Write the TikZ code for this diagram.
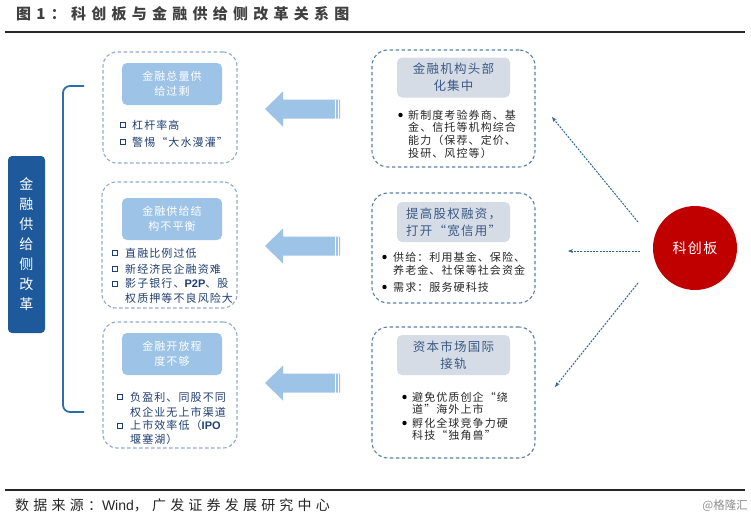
\documentclass[tikz,border=0pt]{standalone}
\usepackage{fontspec}
\setmainfont{Liberation Sans}
\newfontfamily\lat{Liberation Sans}
\newfontfamily\cjk{Noto Sans CJK SC}
\newfontfamily\cjksp[LetterSpace=10]{Noto Sans CJK SC}
\newfontfamily\cjkwide[LetterSpace=30]{Noto Sans CJK SC}
\newfontfamily\cjktitle[LetterSpace=35]{Noto Sans CJK SC}
\usetikzlibrary{arrows.meta}
\definecolor{lfill}{HTML}{9DC3E6}
\definecolor{rfill}{HTML}{D6DCE5}
\definecolor{ltext}{HTML}{1F3F70}
\definecolor{rtext}{HTML}{3B5A85}
\definecolor{btext}{HTML}{262626}
\definecolor{dashl}{HTML}{8FAACC}
\definecolor{dashr}{HTML}{5B7FA8}
\definecolor{sidebox}{HTML}{1E5A9B}
\definecolor{brk}{HTML}{2E6DA8}
\definecolor{kred}{HTML}{C00000}
\definecolor{arrc}{HTML}{33669A}
\definecolor{bigarr}{HTML}{9DC3E6}
\begin{document}
\begin{tikzpicture}[x=1pt,y=-1pt,
  lbox/.style={draw=dashl, dash pattern=on 3.5pt off 2.5pt, line width=1.1pt, rounded corners=14pt},
  rbox/.style={draw=dashr, dash pattern=on 3.5pt off 2.5pt, line width=1.1pt, rounded corners=16pt},
  ltitle/.style={fill=lfill, rounded corners=5pt, minimum width=100pt, minimum height=42pt, text=white, align=center, font=\cjksp\fontsize{11}{15}\selectfont},
  rtitle/.style={fill=rfill, rounded corners=5pt, minimum width=113pt, minimum height=40pt, text=rtext, align=center, font=\cjksp\fontsize{12.5}{17}\selectfont},
  ltxt/.style={anchor=west, inner sep=0pt, text=ltext, font=\cjksp\fontsize{11}{12}\selectfont},
  rtxt/.style={anchor=west, inner sep=0pt, text=btext, font=\cjksp\fontsize{11}{12}\selectfont},
  sqb/.style={draw=ltext, line width=0.8pt, minimum size=5pt, inner sep=0pt},
  dotb/.style={circle, fill=black, minimum size=4.4pt, inner sep=0pt},
  bigarrow/.style={fill=bigarr},
  dasharrow/.style={draw=arrc, line width=1pt, dash pattern=on 2pt off 1.2pt, -{Stealth[length=5pt,width=4pt]}}
]
\useasboundingbox (0,0) rectangle (751,523);

% title and rules
\node[anchor=west, inner sep=0pt, text=black!75, font=\cjktitle\bfseries\fontsize{15}{18}\selectfont] (title) at (16,14) {图1：科创板与金融供给侧改革关系图};
\coordinate (r1a) at (5,32); \coordinate (r1b) at (745,32);
\draw[line width=1.3pt, black!85] (r1a) -- (r1b);
\coordinate (r2a) at (5,490); \coordinate (r2b) at (745,490);
\draw[line width=1.3pt, black!85] (r2a) -- (r2b);
\node[anchor=west, inner sep=0pt, text=black!85, font=\cjkwide\fontsize{14}{16}\selectfont] (src) at (15,505) {数据来源：{\lat Wind}，广发证券发展研究中心};
\node[anchor=east, inner sep=0pt, text=black!45, font=\cjk\fontsize{11.5}{14}\selectfont] (wm) at (748,506) {@格隆汇};

% side label and bracket
\node[fill=sidebox, rounded corners=4pt, minimum width=37pt, minimum height=177pt, text=white, align=center, font=\cjk\fontsize{14}{20}\selectfont] (side) at (26.5,244.5) {金\\融\\供\\给\\侧\\改\\革};
\draw[brk, line width=1.8pt, rounded corners=7pt] (84,86) -- (63,86) -- (63,412) -- (84,412);

% left boxes
\node[lbox, minimum width=134pt, minimum height=111pt] (L1) at (170,107.5) {};
\node[ltitle] (L1t) at (172,84) {金融总量供\\给过剩};
\node[sqb] (L1s1) at (122.5,125) {};
\node[ltxt] (L1l1) at (132,125) {杠杆率高};
\node[sqb] (L1s2) at (122.5,142) {};
\node[ltxt] (L1l2) at (132,142) {警惕“大水漫灌”};

\node[lbox, minimum width=135pt, minimum height=126pt] (L2) at (169.5,245) {};
\node[ltitle] (L2t) at (172,219) {金融供给结\\构不平衡};
\node[sqb] (L2s1) at (114.5,253) {};
\node[ltxt] (L2l1) at (125,253) {直融比例过低};
\node[sqb] (L2s2) at (114.5,269) {};
\node[ltxt] (L2l2) at (125,269) {新经济民企融资难};
\node[sqb] (L2s3) at (114.5,283.5) {};
\node[ltxt] (L2l3) at (125,283.5) {影子银行、{\lat\bfseries P2P}、股};
\node[ltxt] (L2l4) at (125,298) {权质押等不良风险大};

\node[lbox, minimum width=134pt, minimum height=126pt] (L3) at (170,385) {};
\node[ltitle] (L3t) at (172,354) {金融开放程\\度不够};
\node[sqb] (L3s1) at (119.5,397) {};
\node[ltxt] (L3l1) at (130,397) {负盈利、同股不同};
\node[ltxt] (L3l2) at (130,412) {权企业无上市渠道};
\node[sqb] (L3s2) at (119.5,425.5) {};
\node[ltxt] (L3l3) at (130,425.5) {上市效率低（{\lat\bfseries IPO}};
\node[ltxt] (L3l4) at (130,439) {堰塞湖）};

% right boxes
\node[rbox, minimum width=163pt, minimum height=117pt] (R1) at (453.5,108.5) {};
\node[rtitle] (R1t) at (453.5,77.5) {金融机构头部\\化集中};
\node[dotb] (R1d1) at (400.5,115) {};
\node[rtxt] (R1l1) at (408,115) {新制度考验券商、基};
\node[rtxt] (R1l2) at (408,127.5) {金、信托等机构综合};
\node[rtxt] (R1l3) at (408,140) {能力（保荐、定价、};
\node[rtxt] (R1l4) at (408,153) {投研、风控等）};

\node[rbox, minimum width=163pt, minimum height=110pt] (R2) at (453.5,248) {};
\node[rtitle] (R2t) at (453.5,222) {提高股权融资，\\打开“宽信用”};
\node[dotb] (R2d1) at (384.5,257) {};
\node[rtxt] (R2l1) at (393,257) {供给：利用基金、保险、};
\node[rtxt] (R2l2) at (393,270) {养老金、社保等社会资金};
\node[dotb] (R2d2) at (384.5,287) {};
\node[rtxt] (R2l3) at (393,287) {需求：服务硬科技};

\node[rbox, minimum width=163pt, minimum height=131pt] (R3) at (453.5,392.5) {};
\node[rtitle] (R3t) at (453.5,355) {资本市场国际\\接轨};
\node[dotb] (R3d1) at (404.5,397) {};
\node[rtxt] (R3l1) at (412,397) {避免优质创企“绕};
\node[rtxt] (R3l2) at (412,409) {道”海外上市};
\node[dotb] (R3d2) at (404.5,423) {};
\node[rtxt] (R3l3) at (412,423) {孵化全球竞争力硬};
\node[rtxt] (R3l4) at (412,435) {科技“独角兽”};

% big arrows
\foreach \c/\n in {109/A1,246/A2,383/A3}{
  \fill[bigarrow] (340,\c-9.5) -- (283,\c-9.5) -- (283,\c-17.5) -- (265,\c) -- (283,\c+17.5) -- (283,\c+9.5) -- (340,\c+9.5) -- cycle;
  \draw[white, line width=0.7pt] (335.5,\c-9.5) -- (335.5,\c+9.5);
  \draw[white, line width=0.7pt] (338.3,\c-9.5) -- (338.3,\c+9.5);
}

% circle and dashed arrows
\node[circle, fill=kred, minimum size=84pt, inner sep=0pt, text=white, font=\cjksp\fontsize{14}{16}\selectfont] (kcb) at (695,248) {科创板};
\coordinate (d1s) at (638,222); \coordinate (d1e) at (552,117);
\coordinate (d2s) at (640,251); \coordinate (d2e) at (568,251);
\coordinate (d3s) at (638,283); \coordinate (d3e) at (555,387);
\draw[dasharrow] (d1s) -- (d1e);
\draw[dasharrow] (d2s) -- (d2e);
\draw[dasharrow] (d3s) -- (d3e);
\end{tikzpicture}
\end{document}
